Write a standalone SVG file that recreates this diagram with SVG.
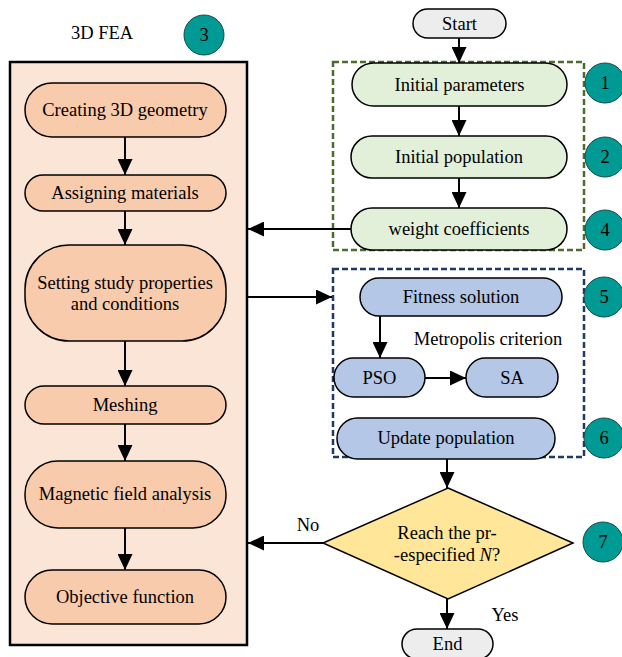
<svg xmlns="http://www.w3.org/2000/svg" width="622" height="657" viewBox="0 0 622 657">
<defs>
<marker id="ah" viewBox="0 0 10 10" refX="10" refY="5" markerWidth="16" markerHeight="15" markerUnits="userSpaceOnUse" orient="auto" preserveAspectRatio="none">
<path d="M0,0 L10,5 L0,10 z" fill="#000"/>
</marker>
<style>
text{font-family:"Liberation Serif","Times New Roman",serif;font-size:18.5px;fill:#000;text-anchor:middle;}
.fea{fill:#F8CBAD;stroke:#000;stroke-width:1.5;}
.grn{fill:#E2F0D9;stroke:#000;stroke-width:1.5;}
.blu{fill:#B4C7E7;stroke:#000;stroke-width:1.5;}
.gry{fill:#EDEDED;stroke:#000;stroke-width:1.5;}
.num{fill:#009A94;stroke:#1a4a48;stroke-width:1;}
.ln{stroke:#000;stroke-width:2;fill:none;marker-end:url(#ah);}
</style>
</defs>
<rect width="622" height="657" fill="#fff"/>

<g id="fea-box">
<rect x="10" y="62" width="237" height="583" fill="#FBE5D6" stroke="#000" stroke-width="2.5"/>
<text x="102" y="39">3D FEA</text>
</g>
<g id="badge3"><circle class="num" cx="204" cy="35" r="20"/><text x="204" y="41">3</text></g>

<g id="n-geom"><rect class="fea" x="25" y="83" width="201" height="54" rx="27"/><text x="125" y="116">Creating 3D geometry</text></g>
<g id="n-mat"><rect class="fea" x="25" y="175" width="201" height="36" rx="18"/><text x="125" y="199">Assigning materials</text></g>
<g id="n-study"><rect class="fea" x="25" y="245" width="201" height="96" rx="44"/><text x="125" y="289">Setting study properties</text><text x="125" y="310">and conditions</text></g>
<g id="n-mesh"><rect class="fea" x="25" y="386" width="201" height="38" rx="19"/><text x="125" y="411">Meshing</text></g>
<g id="n-mag"><rect class="fea" x="25" y="461" width="201" height="67" rx="33"/><text x="125" y="500">Magnetic field analysis</text></g>
<g id="n-obj"><rect class="fea" x="25" y="570" width="201" height="54" rx="27"/><text x="125" y="603">Objective function</text></g>

<g id="green-box"><rect x="333" y="62" width="251" height="188" fill="none" stroke="#4E6B2E" stroke-width="2.5" stroke-dasharray="6,3"/></g>
<g id="blue-box"><rect x="333" y="269" width="251" height="188" fill="none" stroke="#1F3864" stroke-width="2.5" stroke-dasharray="6,3"/></g>

<g id="n-start"><rect class="gry" x="413" y="9" width="93" height="29" rx="14.5"/><text x="459.5" y="30">Start</text></g>
<g id="n-initpar"><rect class="grn" x="352" y="63" width="215" height="43" rx="21.5"/><text x="459.5" y="91">Initial parameters</text></g>
<g id="n-initpop"><rect class="grn" x="351" y="136" width="216" height="42" rx="21"/><text x="459" y="163">Initial population</text></g>
<g id="n-weight"><rect class="grn" x="351" y="208" width="216" height="42" rx="21"/><text x="459" y="235">weight coefficients</text></g>

<g id="n-fit"><rect class="blu" x="360" y="278" width="202" height="38" rx="19"/><text x="461" y="303">Fitness solution</text></g>
<g id="lbl-metro"><text x="488" y="345">Metropolis criterion</text></g>
<g id="n-pso"><rect class="blu" x="334" y="358" width="91" height="39" rx="19.5"/><text x="379.5" y="384">PSO</text></g>
<g id="n-sa"><rect class="blu" x="466" y="358" width="92" height="39" rx="19.5"/><text x="512" y="384">SA</text></g>
<g id="n-upd"><rect class="blu" x="337" y="418" width="218" height="41" rx="20.5"/><text x="446" y="444">Update population</text></g>

<g id="n-dec"><polygon points="448,488 573,543 448,599 323,543" fill="#FFE699" stroke="#000" stroke-width="1.5"/><text x="447" y="539">Reach the pr-</text><text x="447" y="561">-especified <tspan font-style="italic">N</tspan>?</text></g>
<g id="n-end"><rect class="gry" x="402" y="629" width="91" height="30" rx="15"/><text x="447.5" y="650">End</text></g>

<g id="badge1"><circle class="num" cx="605" cy="83" r="20"/><text x="605" y="89">1</text></g>
<g id="badge2"><circle class="num" cx="605" cy="157" r="20"/><text x="605" y="163">2</text></g>
<g id="badge4"><circle class="num" cx="605" cy="230" r="20"/><text x="605" y="236">4</text></g>
<g id="badge5"><circle class="num" cx="604" cy="297" r="20"/><text x="604" y="303">5</text></g>
<g id="badge6"><circle class="num" cx="604" cy="438" r="20"/><text x="604" y="444">6</text></g>
<g id="badge7"><circle class="num" cx="603" cy="542" r="20"/><text x="603" y="548">7</text></g>

<g id="connectors">
<line class="ln" x1="125" y1="137" x2="125" y2="175"/>
<line class="ln" x1="125" y1="211" x2="125" y2="245"/>
<line class="ln" x1="125" y1="341" x2="125" y2="386"/>
<line class="ln" x1="125" y1="424" x2="125" y2="461"/>
<line class="ln" x1="125" y1="528" x2="125" y2="570"/>
<line class="ln" x1="459" y1="38" x2="459" y2="63"/>
<line class="ln" x1="459" y1="106" x2="459" y2="136"/>
<line class="ln" x1="459" y1="178" x2="459" y2="208"/>
<line class="ln" x1="351" y1="229" x2="248" y2="229"/>
<line class="ln" x1="247" y1="297" x2="332" y2="297"/>
<line class="ln" x1="380" y1="316" x2="380" y2="358"/>
<line class="ln" x1="425" y1="378" x2="466" y2="378"/>
<line class="ln" x1="447" y1="459" x2="447" y2="488"/>
<line class="ln" x1="323" y1="543" x2="248" y2="543"/>
<line class="ln" x1="447" y1="599" x2="447" y2="629"/>
<text x="308" y="531">No</text>
<text x="505" y="621">Yes</text>
</g>
</svg>
